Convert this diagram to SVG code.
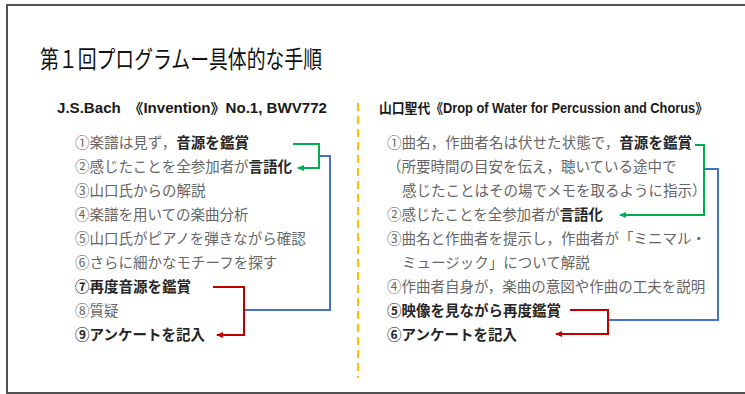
<svg xmlns="http://www.w3.org/2000/svg" width="745" height="394" viewBox="0 0 745 394">
<style>
.t{font-family:"Noto Sans CJK JP","Noto Sans",sans-serif;font-size:14.5px;fill:#666666}
.b{font-weight:bold;fill:#262626}
.h{font-family:"Liberation Sans","Noto Sans CJK JP",sans-serif;font-size:14px;font-weight:bold;fill:#1a1a1a}
.title{font-family:"Noto Sans CJK JP",sans-serif;font-size:24px;fill:#111111}
.c{fill:none;stroke-width:2}
</style>
<defs>
<marker id="ag" markerWidth="7" markerHeight="6" refX="6" refY="3" orient="auto" markerUnits="userSpaceOnUse"><path d="M0,0 L7,3 L0,6 Z" fill="#00B050"/></marker>
<marker id="ar" markerWidth="7" markerHeight="6" refX="6" refY="3" orient="auto" markerUnits="userSpaceOnUse"><path d="M0,0 L7,3 L0,6 Z" fill="#C00000"/></marker>
</defs>
<rect x="0" y="0" width="745" height="394" fill="#ffffff"/>
<rect x="7" y="5" width="760" height="388" fill="none" stroke="#505050" stroke-width="2"/>
<g id="title"><text class="title" x="40" y="68" textLength="282" lengthAdjust="spacingAndGlyphs">第１回プログラムー具体的な手順</text></g>
<g id="divider"><line x1="358" y1="103" x2="358" y2="378" stroke="#FFC000" stroke-width="2" stroke-dasharray="8,5"/></g>
<g id="left">
<text class="h" x="57" y="113" textLength="270" lengthAdjust="spacingAndGlyphs">J.S.Bach　《Invention》No.1, BWV772</text>
<text class="t" x="75" y="148" textLength="174">①楽譜は見ず，<tspan class="b">音源を鑑賞</tspan></text>
<text class="t" x="75" y="172" textLength="217">②感じたことを全参加者が<tspan class="b">言語化</tspan></text>
<text class="t" x="75" y="196">③山口氏からの解説</text>
<text class="t" x="75" y="220">④楽譜を用いての楽曲分析</text>
<text class="t" x="75" y="244">⑤山口氏がピアノを弾きながら確認</text>
<text class="t" x="75" y="268">⑥さらに細かなモチーフを探す</text>
<text class="t b" x="75" y="292">⑦再度音源を鑑賞</text>
<text class="t" x="75" y="316">⑧質疑</text>
<text class="t b" x="75" y="340">⑨アンケートを記入</text>
</g>
<g id="right">
<text class="h" x="379" y="113" textLength="329" lengthAdjust="spacingAndGlyphs">山口聖代《Drop of Water for Percussion and Chorus》</text>
<text class="t" x="387" y="148" textLength="305">①曲名，作曲者名は伏せた状態で，<tspan class="b">音源を鑑賞</tspan></text>
<text class="t" x="387" y="172">（所要時間の目安を伝え，聴いている途中で</text>
<text class="t" x="402" y="196">感じたことはその場でメモを取るように指示）</text>
<text class="t" x="387" y="220" textLength="216">②感じたことを全参加者が<tspan class="b">言語化</tspan></text>
<text class="t" x="387" y="244">③曲名と作曲者を提示し，作曲者が「ミニマル・</text>
<text class="t" x="402" y="268">ミュージック」について解説</text>
<text class="t" x="387" y="292">④作曲者自身が，楽曲の意図や作曲の工夫を説明</text>
<text class="t b" x="387" y="316">⑤映像を見ながら再度鑑賞</text>
<text class="t b" x="387" y="340">⑥アンケートを記入</text>
</g>
<g id="connectors">
<path class="c" stroke="#4472C4" d="M318,156 H330 V310 H244"/>
<path class="c" stroke="#00B050" d="M293,144 H319 V168 H298" marker-end="url(#ag)"/>
<path class="c" stroke="#C00000" d="M213,287 H244 V335 H217" marker-end="url(#ar)"/>
<path class="c" stroke="#4472C4" d="M704,169 H718 V320 H608"/>
<path class="c" stroke="#00B050" d="M695,145 H704 V215 H620" marker-end="url(#ag)"/>
<path class="c" stroke="#C00000" d="M570,310 H608 V334 H556" marker-end="url(#ar)"/>
</g>
</svg>
